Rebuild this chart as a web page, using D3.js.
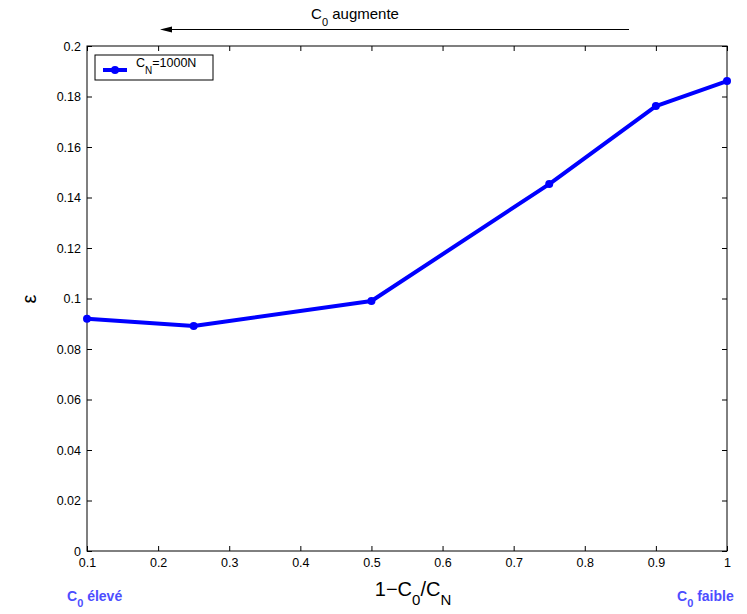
<!DOCTYPE html>
<html><head><meta charset="utf-8">
<script src="https://cdn.jsdelivr.net/npm/d3@7"></script>
<style>body{margin:0;background:#fff}svg{font-family:"Liberation Sans",Arial,sans-serif}</style>
</head><body>
<svg id="c" width="747" height="614"></svg>
<script>
const xValues = [0.1, 0.25, 0.5, 0.75, 0.9, 1.0];
const epsValues = [0.092, 0.0891, 0.099, 0.1453, 0.1762, 0.1861];
const xTicks = [0.1,0.2,0.3,0.4,0.5,0.6,0.7,0.8,0.9,1];
const yTicks = [0,0.02,0.04,0.06,0.08,0.1,0.12,0.14,0.16,0.18,0.2];
const seriesName = "1000N";

const svg = d3.select("#c");
const L=87,R=727,T=46,B=551;
const x = d3.scaleLinear().domain([0.1,1]).range([L,R]);
const y = d3.scaleLinear().domain([0,0.2]).range([B,T]);
const fmt = d => String(d);

svg.append("rect").attr("x",L).attr("y",T).attr("width",R-L).attr("height",B-T)
 .attr("fill","none").attr("stroke","#000").attr("stroke-width",1);

const bx = svg.append("g").attr("transform",`translate(0,${B})`)
  .call(d3.axisBottom(x).tickValues(xTicks).tickFormat(fmt).tickSizeInner(-5).tickSizeOuter(0).tickPadding(7));
const tx = svg.append("g").attr("transform",`translate(0,${T})`)
  .call(d3.axisTop(x).tickValues(xTicks).tickFormat("").tickSizeInner(-5).tickSizeOuter(0));
const ly = svg.append("g").attr("transform",`translate(${L},0)`)
  .call(d3.axisLeft(y).tickValues(yTicks).tickFormat(fmt).tickSizeInner(-5).tickSizeOuter(0).tickPadding(6));
const ry = svg.append("g").attr("transform",`translate(${R},0)`)
  .call(d3.axisRight(y).tickValues(yTicks).tickFormat("").tickSizeInner(-5).tickSizeOuter(0));
[bx,tx,ly,ry].forEach(a=>{a.select(".domain").remove();a.selectAll("text").attr("font-size",12.5).attr("fill","#000").attr("font-family","Liberation Sans, Arial, sans-serif");});
ly.selectAll("text").attr("dy","0.32em");

const line = d3.line().x((d,i)=>x(xValues[i])).y(d=>y(d));
svg.append("path").datum(epsValues).attr("d",line).attr("fill","none")
  .attr("stroke","#0000ff").attr("stroke-width",4).attr("stroke-linejoin","round");
svg.selectAll("circle.pt").data(epsValues).enter().append("circle")
  .attr("cx",(d,i)=>x(xValues[i])).attr("cy",d=>y(d)).attr("r",4).attr("fill","#0000ff");

// legend
svg.append("rect").attr("x",95).attr("y",55).attr("width",118).attr("height",25)
  .attr("fill","#fff").attr("stroke","#000").attr("stroke-width",1);
svg.append("line").attr("x1",103).attr("x2",127).attr("y1",70).attr("y2",70)
  .attr("stroke","#0000ff").attr("stroke-width",4);
svg.append("circle").attr("cx",115).attr("cy",70).attr("r",4).attr("fill","#0000ff");
const lt = svg.append("text").attr("x",136).attr("y",67).attr("font-size",12.5);
lt.append("tspan").text("C");
lt.append("tspan").attr("font-size",10).attr("dy",7).text("N");
lt.append("tspan").attr("dy",-7).text("=" + seriesName);

svg.append("text").attr("transform","translate(36,299) rotate(-90)").attr("text-anchor","middle")
  .attr("font-size",20).text("ε");

const xl = svg.append("text").attr("x",413).attr("y",596).attr("text-anchor","middle").attr("font-size",20);
xl.append("tspan").text("1−C");
xl.append("tspan").attr("font-size",15).attr("dy",9).text("0");
xl.append("tspan").attr("dy",-9).text("/C");
xl.append("tspan").attr("font-size",15).attr("dy",9).text("N");

const tt = svg.append("text").attr("x",355).attr("y",19).attr("text-anchor","middle").attr("font-size",15);
tt.append("tspan").text("C");
tt.append("tspan").attr("font-size",11).attr("dy",7).text("0");
tt.append("tspan").attr("dy",-7).text(" augmente");
svg.append("line").attr("x1",629).attr("x2",170).attr("y1",29.5).attr("y2",29.5).attr("stroke","#000").attr("stroke-width",1);
svg.append("path").attr("d","M160,29.5 L172,26.5 L172,32.5 Z").attr("fill","#000");

function blue(xp, word){
  const t = svg.append("text").attr("x",xp).attr("y",601).attr("font-size",14).attr("font-weight","bold").attr("fill","#4d4dff");
  t.append("tspan").text("C");
  t.append("tspan").attr("font-size",11).attr("dy",6).text("0");
  t.append("tspan").attr("dy",-6).text(" " + word);
}
blue(67,"élevé");
blue(677,"faible");
</script>
</body></html>
